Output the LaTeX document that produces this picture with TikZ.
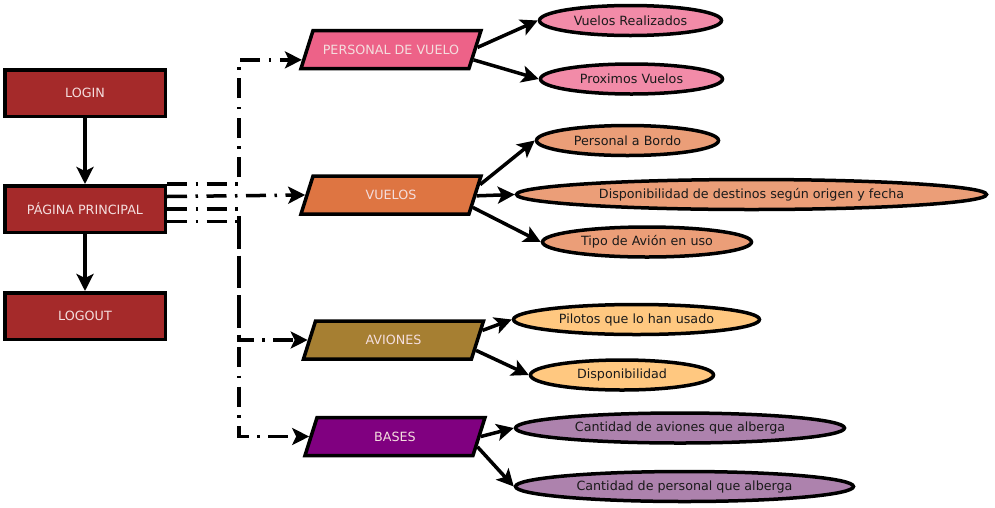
\documentclass[tikz,border=0pt]{standalone}
\usepackage{fontspec}
\setmainfont{DejaVu Sans}
\usetikzlibrary{shapes.geometric,arrows.meta,calc}

\definecolor{boxred}{RGB}{165,42,42}
\definecolor{pvfill}{RGB}{237,98,136}
\definecolor{vufill}{RGB}{222,117,66}
\definecolor{avfill}{RGB}{166,127,50}
\definecolor{bafill}{RGB}{128,0,128}
\definecolor{pvlight}{RGB}{242,139,168}
\definecolor{vulight}{RGB}{235,158,120}
\definecolor{avlight}{RGB}{255,200,128}
\definecolor{balight}{RGB}{173,130,173}
\definecolor{lighttext}{RGB}{244,222,222}
\definecolor{darktext}{RGB}{26,26,26}

\tikzset{
  every node/.style={font=\fontsize{12.7}{14}\selectfont},
  pagebox/.style={rectangle, draw=black, line width=3.5pt, fill=boxred,
    text=lighttext, minimum width=160.5pt, minimum height=46.5pt, inner sep=0pt},
  section/.style={trapezium, trapezium left angle=72.4, trapezium right angle=107.6,
    trapezium stretches body, draw=black, line width=3.5pt, text=lighttext,
    text height=9pt, text depth=0pt, inner ysep=14.5pt, inner xsep=0pt,
    minimum width=180pt},
  item/.style={ellipse, draw=black, line width=3.5pt, text=darktext,
    minimum height=30pt, inner sep=0pt},
  flow/.style={line width=3.5pt, -{Stealth[length=17pt, width=17pt, inset=4pt]}},
  menulink/.style={flow, dash pattern=on 20pt off 8.5pt on 2.5pt off 8.5pt},
}

\begin{document}
\begin{tikzpicture}[x=1pt, y=-1pt]
  \useasboundingbox (0,0) rectangle (995,507);

  % main pages
  \node[pagebox] (login)  at (85,93)  {LOGIN};
  \node[pagebox] (home)   at (85,209) {PÁGINA PRINCIPAL};
  \node[pagebox] (logout) at (85,316) {LOGOUT};

  % sections
  \node[section, fill=pvfill] (pv) at (391,49.5) {PERSONAL DE VUELO};
  \node[section, fill=vufill] (vu) at (391,195)  {VUELOS};
  \node[section, fill=avfill] (av) at (393.5,340) {AVIONES};
  \node[section, fill=bafill] (ba) at (395,436.5) {BASES};

  % section items
  \node[item, fill=pvlight, minimum width=182pt] (vr) at (630.5,20.5) {Vuelos Realizados};
  \node[item, fill=pvlight, minimum width=182pt] (pr) at (631.5,79)   {Proximos Vuelos};
  \node[item, fill=vulight, minimum width=182pt] (pb) at (627.5,140.5) {Personal a Bordo};
  \node[item, fill=vulight, minimum width=470pt] (dd) at (751.5,194.5) {Disponibilidad de destinos según origen y fecha};
  \node[item, fill=vulight, minimum width=209pt] (ta) at (647,242)   {Tipo de Avión en uso};
  \node[item, fill=avlight, minimum width=246pt] (pu) at (636.5,319.5) {Pilotos que lo han usado};
  \node[item, fill=avlight, minimum width=183pt] (di) at (622,375)   {Disponibilidad};
  \node[item, fill=balight, minimum width=329pt] (ca) at (680,428)   {Cantidad de aviones que alberga};
  \node[item, fill=balight, minimum width=338pt] (cp) at (684.5,486.5) {Cantidad de personal que alberga};

  % navigation between pages
  \draw[flow] (login) -- (home);
  \draw[flow] (home) -- (logout);

  % links from the main page to each section
  \coordinate (bus) at (239,0);
  \coordinate (h0) at (home.north east);
  \coordinate (h1) at ($(home.north east)!0.25!(home.south east)$);
  \coordinate (h2) at (home.east);
  \coordinate (h3) at ($(home.north east)!0.75!(home.south east)$);
  \coordinate (pvin) at ($(pv.top left corner)!0.75!(pv.bottom left corner)$);
  \coordinate (vuin) at ($(vu.top left corner)!0.5!(vu.bottom left corner)$);
  \draw[menulink] (h0) -- (h0 -| bus) |- (pvin);
  \draw[menulink] (h1) -- (vuin);
  \draw[menulink] (h2) -- (h2 -| bus) |- (av.west);
  \draw[menulink] (h3) -- (h3 -| bus) |- (ba.west);

  % items of each section
  \draw[flow] ($(pv.top right corner)!0.45!(pv.bottom right corner)$) -- (vr.west);
  \draw[flow] ($(pv.top right corner)!0.75!(pv.bottom right corner)$) -- (pr.west);
  \draw[flow] ($(vu.top right corner)!0.25!(vu.bottom right corner)$) -- (pb.west);
  \draw[flow] ($(vu.top right corner)!0.52!(vu.bottom right corner)$) -- (dd.west);
  \draw[flow] ($(vu.top right corner)!0.8!(vu.bottom right corner)$) -- (ta.west);
  \draw[flow] ($(av.top right corner)!0.27!(av.bottom right corner)$) -- (pu.west);
  \draw[flow] ($(av.top right corner)!0.75!(av.bottom right corner)$) -- (di.west);
  \draw[flow] ($(ba.top right corner)!0.5!(ba.bottom right corner)$) -- (ca.west);
  \draw[flow] ($(ba.top right corner)!0.75!(ba.bottom right corner)$) -- (cp.west);
\end{tikzpicture}
\end{document}
